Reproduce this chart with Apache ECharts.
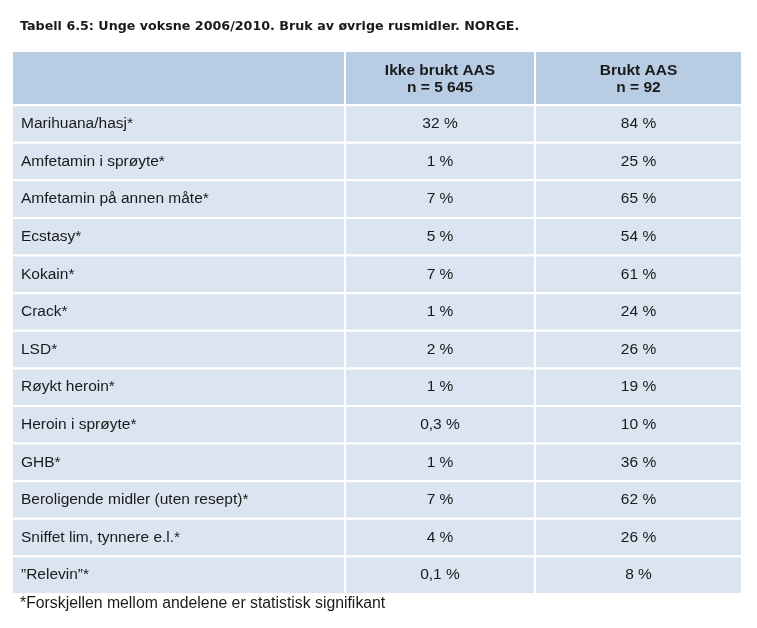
<!DOCTYPE html>
<html><head><meta charset="utf-8">
<script src="https://cdn.jsdelivr.net/npm/echarts@6/dist/echarts.min.js"></script>
<style>html,body{margin:0;padding:0;background:#fff}#c{width:757px;height:628px}</style>
</head><body><div id="c"></div>
<script>
const title = 'Tabell 6.5: Unge voksne 2006/2010. Bruk av øvrige rusmidler. NORGE.';
const footnote = '*Forskjellen mellom andelene er statistisk signifikant';
const columnHeaders = ['', 'Ikke brukt AAS\nn = 5 645', 'Brukt AAS\nn = 92'];
const categories = ['Marihuana/hasj*', 'Amfetamin i sprøyte*', 'Amfetamin på annen måte*', 'Ecstasy*', 'Kokain*', 'Crack*', 'LSD*', 'Røykt heroin*', 'Heroin i sprøyte*', 'GHB*', 'Beroligende midler (uten resept)*', 'Sniffet lim, tynnere e.l.*', '”Relevin”*'];
const notUsedAAS = [32, 1, 7, 5, 7, 1, 2, 1, 0.3, 1, 7, 4, 0.1];
const usedAAS = [84, 25, 65, 54, 61, 24, 26, 19, 10, 36, 62, 26, 8];

const layout = { colEdges: [0, 333, 523, 730], headerRows: 1.44 };
const fmt = v => String(v).replace('.', ',') + ' %';

const cells = [];
for (let c = 0; c < 3; c++) cells.push([c, -1]);
categories.forEach((cat, i) => { cells.push([0, i]); cells.push([1, i]); cells.push([2, i]); });

function cellText(c, r) {
  if (r < 0) return columnHeaders[c];
  if (c === 0) return categories[r];
  return fmt(c === 1 ? notUsedAAS[r] : usedAAS[r]);
}

const H = layout.headerRows;
const chart = echarts.init(document.getElementById('c'), null, { renderer: 'canvas' });
chart.setOption({
  animation: false,
  backgroundColor: '#ffffff',
  title: { text: title, left: 15, top: 15, textStyle: { fontFamily: 'DejaVu Sans', fontWeight: 'bold', fontSize: 12.7, color: '#1a1a1a' } },
  graphic: [{ type: 'text', left: 20, top: 596, style: { text: footnote, fontFamily: 'Liberation Sans', fontSize: 15.8, fill: '#1a1a1a' } }],
  grid: { left: 12, right: 15, top: 51, bottom: 34 },
  xAxis: { type: 'value', min: 0, max: 730, show: false },
  yAxis: { type: 'value', min: 0, max: H + categories.length, inverse: true, show: false },
  series: [{
    type: 'custom',
    data: cells,
    renderItem: function (params, api) {
      const c = api.value(0), r = api.value(1);
      const x0 = layout.colEdges[c], x1 = layout.colEdges[c + 1];
      const y0 = r < 0 ? 0 : H + r, y1 = r < 0 ? H : H + r + 1;
      const p0 = api.coord([x0, y0]), p1 = api.coord([x1, y1]);
      const header = r < 0;
      const txt = cellText(c, r);
      return {
        type: 'group',
        children: [
          { type: 'rect', shape: { x: p0[0], y: p0[1], width: p1[0] - p0[0], height: p1[1] - p0[1] },
            style: { fill: header ? '#b8cce4' : '#dbe5f1', stroke: '#ffffff', lineWidth: 2 } },
          { type: 'text',
            x: (c === 0 && !header) ? p0[0] + 9 : (p0[0] + p1[0]) / 2,
            y: (p0[1] + p1[1]) / 2 + (header ? 1 : 0),
            style: { text: txt, fontFamily: 'Liberation Sans', fontSize: 15.5, fontWeight: header ? 'bold' : 'normal',
              fill: '#1a1a1a', align: (c === 0 && !header) ? 'left' : 'center', verticalAlign: 'middle', lineHeight: 17 } }
        ]
      };
    }
  }]
});
</script></body></html>
